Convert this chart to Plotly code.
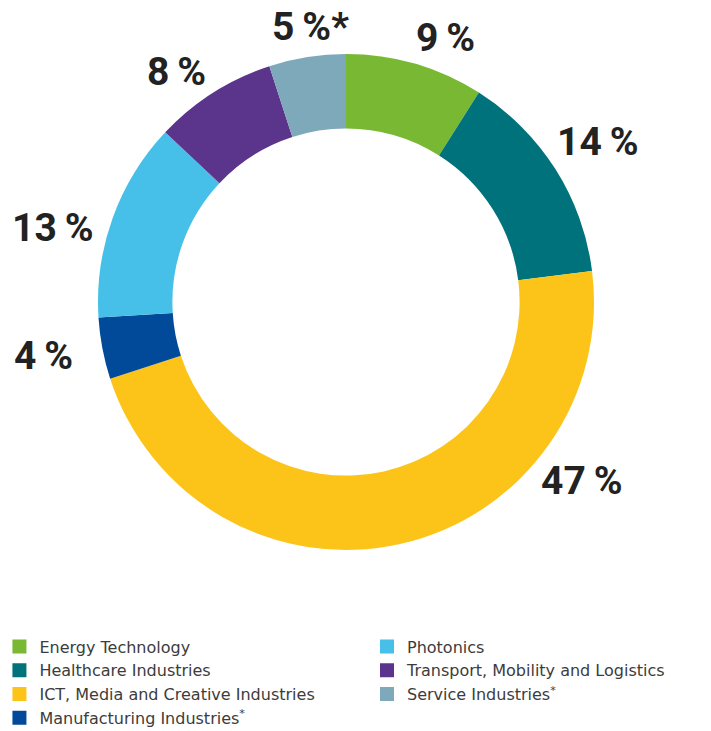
import plotly.graph_objects as go

categories = ["Energy Technology", "Healthcare Industries", "ICT, Media and Creative Industries",
              "Manufacturing Industries<sup>*</sup>", "Photonics", "Transport, Mobility and Logistics",
              "Service Industries<sup>*</sup>"]
values = [9, 14, 47, 4, 13, 8, 5]
label_suffix = ["", "", "", "", "", "", "*"]
colors = ["#78b833", "#00727b", "#fcc419", "#004a99", "#46c0e8", "#5b358c", "#7ea9bb"]

# label positions in pixels (x from left, y from top)
label_px = [(445, 38), (598, 142), (582, 481), (43, 356), (53, 228), (176, 72), (310, 27)]

W, H = 711, 731
cx, cy, R = 346, 302, 248

fig = go.Figure()
fig.add_trace(go.Pie(
    labels=categories, values=values, sort=False, direction="clockwise", rotation=0,
    hole=0.70, marker=dict(colors=colors, line=dict(width=0)), textinfo="none",
    showlegend=False,
    domain=dict(x=[(cx - R) / W, (cx + R) / W], y=[1 - (cy + R) / H, 1 - (cy - R) / H]),
))

# legend via dummy traces
for i, (cat, col) in enumerate(zip(categories, colors)):
    fig.add_trace(go.Scatter(
        x=[None], y=[None], mode="markers", name=cat,
        marker=dict(symbol="square", size=14, color=col),
        legend="legend" if i < 4 else "legend2",
    ))

for v, suf, (px, py) in zip(values, label_suffix, label_px):
    fig.add_annotation(
        x=px / W, y=1 - py / H, xref="paper", yref="paper", showarrow=False,
        text=f"{v}\u2009%{suf}", font=dict(family="Roboto", size=39, color="#222222", weight="bold"),
        xanchor="center", yanchor="middle",
    )

legend_style = dict(font=dict(family="DejaVu Sans", size=16, color="#3c3c3c"), bgcolor="rgba(0,0,0,0)",
                    xanchor="left", yanchor="top", tracegroupgap=0, itemclick=False)
fig.update_layout(
    width=W, height=H, margin=dict(l=0, r=0, t=0, b=0, autoexpand=False),
    paper_bgcolor="white", plot_bgcolor="white",
    xaxis=dict(visible=False), yaxis=dict(visible=False),
    legend=dict(x=-0.0008, y=1 - 629.5 / H, **legend_style),
    legend2=dict(x=(381 - 14) / W, y=1 - 629.5 / H, **legend_style),
)

fig.write_html("out.html")
